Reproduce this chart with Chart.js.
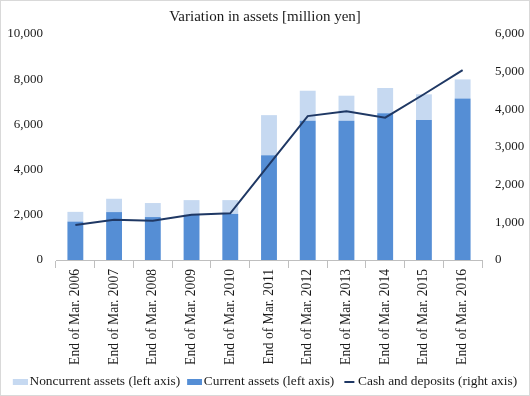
<!DOCTYPE html>
<html>
<head>
<meta charset="utf-8">
<script src="https://cdn.jsdelivr.net/npm/chart.js@4.4.1/dist/chart.umd.min.js"></script>
<style>
  html, body { margin: 0; padding: 0; background: #fff; }
  #wrap { width: 530px; height: 396px; box-sizing: border-box; border: 1px solid #d9d9d9; background: #fff; }
  canvas { display: block; }
</style>
</head>
<body>
<div id="wrap"><canvas id="c" width="528" height="394"></canvas></div>
<script>
const categories = ['End of Mar. 2006','End of Mar. 2007','End of Mar. 2008','End of Mar. 2009','End of Mar. 2010','End of Mar. 2011','End of Mar. 2012','End of Mar. 2013','End of Mar. 2014','End of Mar. 2015','End of Mar. 2016'];
const currentAssets    = [1700, 2120, 1900, 2000, 2040, 4640, 6160, 6160, 6490, 6190, 7150];
const noncurrentAssets = [ 430,  590,  620,  650,  610, 1770, 1330, 1110, 1120, 1140,  840];
const cashDeposits     = [ 930, 1070, 1040, 1200, 1240, 2530, 3820, 3950, 3780, 4400, 5040];
const leftTicks  = { min: 0, max: 10000, step: 2000 };
const rightTicks = { min: 0, max: 6000, step: 1000 };
const titleText = 'Variation in assets [million yen]';
const seriesNames = ['Current assets (left axis)', 'Noncurrent assets (left axis)', 'Cash and deposits (right axis)'];

const COL_CUR = '#558ed5', COL_NON = '#c6d9f1', COL_LINE = '#1f3864';
const FONT = "'Liberation Serif', 'Times New Roman', serif";
const TXT = '#1a1a1a';

function swatch(w, h, color, x0, x1) {
  const c = document.createElement('canvas');
  c.width = w; c.height = h;
  const x = c.getContext('2d');
  x.fillStyle = color; x.fillRect(x0, 0, x1 - x0, h);
  return c;
}
const swatches = [swatch(20, 6, COL_CUR, 5, 20), swatch(20, 6, COL_NON, 5, 20), swatch(20, 2, COL_LINE, 8, 18)];
const legendRank = [1, 0, 2];

const legendFix = {
  id: 'legendFix',
  beforeLayout(chart) {
    const lg = chart.legend;
    if (lg && !lg._patched) {
      const f = lg.fit;
      lg.fit = function () { f.call(this); this.height = 27; };
      lg._patched = true;
    }
  }
};

new Chart(document.getElementById('c'), {
  type: 'bar',
  data: {
    labels: categories,
    datasets: [
      { label: seriesNames[0], data: currentAssets, backgroundColor: COL_CUR, yAxisID: 'y', order: 1,
        categoryPercentage: 1, barPercentage: 0.41 },
      { label: seriesNames[1], data: noncurrentAssets, backgroundColor: COL_NON, yAxisID: 'y', order: 1,
        categoryPercentage: 1, barPercentage: 0.41 },
      { type: 'line', label: seriesNames[2], data: cashDeposits, borderColor: COL_LINE, backgroundColor: COL_LINE,
        borderWidth: 2, pointRadius: 0, tension: 0, yAxisID: 'y1', order: 0 }
    ]
  },
  options: {
    responsive: false,
    animation: false,
    locale: 'en-US',
    layout: { padding: { left: 0, right: 0, top: 0, bottom: 0 } },
    plugins: {
      tooltip: { enabled: false },
      title: { display: true, text: titleText, color: TXT, font: { family: FONT, size: 15, weight: 'normal' },
               padding: { top: 7, bottom: 8 } },
      legend: {
        position: 'bottom',
        labels: {
          usePointStyle: true, pointStyleWidth: 10, padding: 7,
          color: TXT, font: { family: FONT, size: 13.4 },
          generateLabels(chart) {
            const items = Chart.defaults.plugins.legend.labels.generateLabels(chart);
            items.forEach(it => { it.pointStyle = swatches[it.datasetIndex]; });
            return items;
          },
          sort: (a, b) => legendRank[a.datasetIndex] - legendRank[b.datasetIndex]
        }
      }
    },
    scales: {
      x: {
        stacked: true,
        offset: true,
        grid: { display: true, offset: true, drawOnChartArea: false, drawTicks: true, tickLength: 8, color: '#bfbfbf' },
        border: { display: true, color: '#bfbfbf' },
        ticks: { color: TXT, font: { family: FONT, size: 13.6 }, maxRotation: 90, minRotation: 90, padding: 1, autoSkip: false },
        afterFit(s) { s.height = 108; }
      },
      y: {
        stacked: true, position: 'left',
        min: leftTicks.min, max: leftTicks.max,
        grid: { display: false, tickLength: 0 }, border: { display: false },
        ticks: { stepSize: leftTicks.step, color: TXT, font: { family: FONT, size: 13 }, padding: 13 },
        afterFit(s) { s.width = 55; }
      },
      y1: {
        position: 'right',
        min: rightTicks.min, max: rightTicks.max,
        grid: { display: false, tickLength: 0 }, border: { display: false },
        ticks: { stepSize: rightTicks.step, color: TXT, font: { family: FONT, size: 13 }, padding: 13 },
        afterFit(s) { s.width = 47; }
      }
    }
  },
  plugins: [legendFix]
});
</script>
</body>
</html>
